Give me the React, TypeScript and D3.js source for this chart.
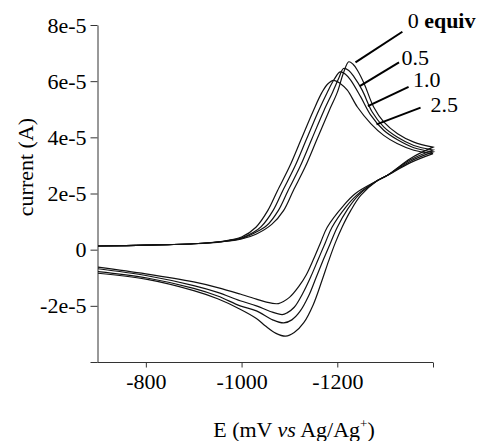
import { useEffect, useRef } from 'react';
import * as d3 from 'd3';

// potential in mV, current in units of 1e-5 A
const yTicks = [8, 6, 4, 2, 0, -2, -4];
const yTickLabels = ['8e-5', '6e-5', '4e-5', '2e-5', '0', '-2e-5', ''];
const xTicks = [-800, -1000, -1200, -1400];
const xTickLabels = ['-800', '-1000', '-1200', ''];

// forward (cathodic) scans, -700 -> -1400 mV
const fwd0 = [[-700, 0.13], [-800, 0.16], [-900, 0.21], [-960, 0.28], [-1000, 0.38], [-1030, 0.55], [-1063, 0.9], [-1088, 1.4], [-1108, 2.1], [-1133, 2.95], [-1158, 3.95], [-1183, 4.95], [-1200, 5.6], [-1213, 6.3], [-1224, 6.69], [-1233, 6.6], [-1242, 6.39], [-1256, 5.92], [-1276, 5.08], [-1297, 4.55], [-1326, 4.13], [-1360, 3.83], [-1400, 3.65]];
const fwd05 = [[-700, 0.13], [-800, 0.16], [-900, 0.21], [-960, 0.29], [-1000, 0.4], [-1025, 0.58], [-1052, 0.85], [-1077, 1.4], [-1097, 2.1], [-1122, 2.95], [-1147, 3.95], [-1172, 4.95], [-1190, 5.6], [-1203, 6.1], [-1213, 6.45], [-1224, 6.38], [-1235, 6.15], [-1252, 5.68], [-1273, 4.9], [-1297, 4.37], [-1325, 4.01], [-1360, 3.71], [-1400, 3.55]];
const fwd10 = [[-700, 0.13], [-800, 0.16], [-900, 0.21], [-960, 0.29], [-1000, 0.42], [-1025, 0.62], [-1041, 0.82], [-1066, 1.4], [-1086, 2.1], [-1111, 2.95], [-1136, 3.95], [-1161, 4.95], [-1179, 5.6], [-1193, 6.05], [-1206, 6.33], [-1217, 6.25], [-1228, 6.04], [-1249, 5.44], [-1270, 4.79], [-1297, 4.25], [-1325, 3.92], [-1360, 3.63], [-1400, 3.48]];
const fwd25 = [[-700, 0.13], [-800, 0.16], [-900, 0.21], [-960, 0.3], [-1000, 0.45], [-1030, 0.8], [-1055, 1.4], [-1075, 2.1], [-1100, 2.95], [-1125, 3.95], [-1150, 4.95], [-1168, 5.6], [-1180, 5.9], [-1192, 6.03], [-1206, 5.92], [-1221, 5.68], [-1242, 5.08], [-1270, 4.49], [-1297, 4.07], [-1325, 3.78], [-1360, 3.54], [-1400, 3.42]];

// reverse (anodic) scans, -1400 -> -700 mV
const rev0 = [[-1400, 3.65], [-1353, 3.25], [-1304, 2.64], [-1284, 2.46], [-1249, 1.93], [-1228, 1.39], [-1210, 0.8], [-1196, 0.25], [-1182, -0.4], [-1168, -1.1], [-1150, -1.95], [-1130, -2.6], [-1110, -2.95], [-1092, -3.08], [-1072, -2.98], [-1050, -2.72], [-1031, -2.45], [-997, -2.12], [-950, -1.75], [-900, -1.46], [-800, -1.05], [-700, -0.84]];
const rev05 = [[-1400, 3.55], [-1353, 3.2], [-1304, 2.64], [-1284, 2.46], [-1245, 1.95], [-1222, 1.45], [-1200, 0.8], [-1186, 0.25], [-1171, -0.35], [-1156, -0.98], [-1140, -1.65], [-1122, -2.2], [-1105, -2.5], [-1088, -2.61], [-1065, -2.5], [-1031, -2.18], [-997, -2.0], [-950, -1.65], [-900, -1.38], [-800, -1.0], [-700, -0.78]];
const rev10 = [[-1400, 3.48], [-1353, 3.15], [-1304, 2.64], [-1284, 2.46], [-1242, 1.96], [-1217, 1.5], [-1189, 0.8], [-1175, 0.25], [-1160, -0.35], [-1145, -0.95], [-1128, -1.55], [-1110, -2.05], [-1095, -2.25], [-1085, -2.31], [-1060, -2.2], [-1031, -2.0], [-997, -1.82], [-950, -1.52], [-900, -1.28], [-800, -0.92], [-700, -0.68]];
const rev25 = [[-1400, 3.42], [-1353, 3.1], [-1304, 2.64], [-1284, 2.46], [-1238, 2.0], [-1213, 1.57], [-1179, 0.8], [-1165, 0.25], [-1150, -0.35], [-1135, -0.9], [-1120, -1.3], [-1100, -1.7], [-1077, -1.92], [-1050, -1.86], [-1031, -1.76], [-997, -1.58], [-950, -1.35], [-900, -1.15], [-800, -0.86], [-700, -0.62]];

const equivLabels = ['0', '0.5', '1.0', '2.5'];
// label anchor and leader line ends, in data units [E, i]
const labelPos = [[-1347, 7.89], [-1334, 6.57], [-1358, 5.79], [-1395, 4.89]];
const leaderFrom = [[-1336, 7.76], [-1329, 6.67], [-1349, 5.8], [-1374, 5.06]];
const leaderTo = [[-1238, 6.67], [-1247, 5.82], [-1264, 5.11], [-1282, 4.46]];

const curves = [fwd0.concat(rev0), fwd05.concat(rev05), fwd10.concat(rev10), fwd25.concat(rev25)];

const FONT = '"Liberation Serif", "Times New Roman", serif';

export default function App() {
  const svgRef = useRef(null);

  useEffect(() => {
    const svg = d3.select(svgRef.current);
    svg.selectAll('*').remove();

    const x = d3.scaleLinear().domain([-700, -1400]).range([98, 433]);
    const y = d3.scaleLinear().domain([-4, 8]).range([362, 25]);

    // axes
    const yAxis = svg.append('g')
      .attr('transform', 'translate(97.5,0)')
      .call(d3.axisLeft(y).tickValues(yTicks).tickFormat((d, i) => yTickLabels[i]).tickSize(7).tickSizeOuter(0).tickPadding(4));
    const xAxis = svg.append('g')
      .attr('transform', 'translate(0,362.5)')
      .call(d3.axisBottom(x).tickValues(xTicks).tickFormat((d, i) => xTickLabels[i]).tickSize(5).tickSizeOuter(0).tickPadding(6));
    [yAxis, xAxis].forEach(a => {
      a.selectAll('path, line').attr('stroke', '#333');
      a.selectAll('text').attr('fill', '#000').style('font-family', FONT).style('font-size', '22px');
    });
    // x domain line starts at the y axis
    xAxis.select('path').attr('d', `M${97.5},0H${x(-1400)}`);

    const line = d3.line()
      .x(d => x(d[0]))
      .y(d => y(d[1]))
      .curve(d3.curveCatmullRom.alpha(0.5));

    curves.forEach(c => {
      svg.append('path')
        .datum(c)
        .attr('fill', 'none')
        .attr('stroke', '#111')
        .attr('stroke-width', 1.2)
        .attr('d', line);
    });

    // leader lines and labels
    equivLabels.forEach((lab, i) => {
      svg.append('line')
        .attr('x1', x(leaderFrom[i][0])).attr('y1', y(leaderFrom[i][1]))
        .attr('x2', x(leaderTo[i][0])).attr('y2', y(leaderTo[i][1]))
        .attr('stroke', '#000')
        .attr('stroke-width', 2);
      const t = svg.append('text')
        .attr('x', x(labelPos[i][0]))
        .attr('y', y(labelPos[i][1]))
        .style('font-family', FONT)
        .style('font-size', '22px')
        .text(lab);
      if (i === 0) {
        t.append('tspan').text(' ');
        t.append('tspan').style('font-weight', 'bold').text('equiv');
      }
    });

    // axis titles
    svg.append('text')
      .attr('transform', 'translate(33,167) rotate(-90)')
      .attr('text-anchor', 'middle')
      .style('font-family', FONT)
      .style('font-size', '22px')
      .text('current (A)');

    const xt = svg.append('text')
      .attr('x', 294)
      .attr('y', 437)
      .attr('text-anchor', 'middle')
      .style('font-family', FONT)
      .style('font-size', '22px');
    xt.append('tspan').text('E (mV ');
    xt.append('tspan').style('font-style', 'italic').text('vs');
    xt.append('tspan').text(' Ag/Ag');
    xt.append('tspan').attr('dy', -9).style('font-size', '13px').text('+');
    xt.append('tspan').attr('dy', 9).text(')');
  }, []);

  return (
    <svg
      ref={svgRef}
      width={478}
      height={441}
      style={{ position: 'absolute', left: 0, top: 0, background: '#fff' }}
    />
  );
}
